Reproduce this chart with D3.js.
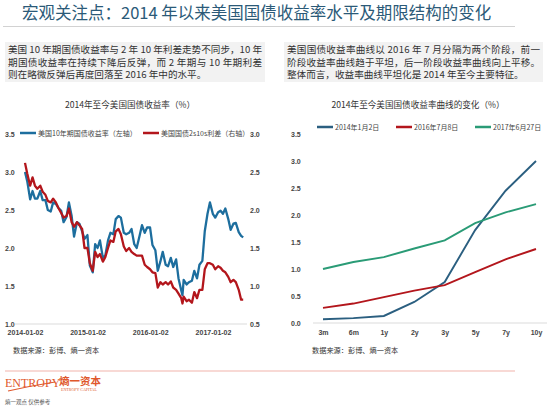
<!DOCTYPE html>
<html><head><meta charset="utf-8">
<script src="https://cdn.jsdelivr.net/npm/d3@7"></script>
<style>
body{margin:0;background:#fff;}
svg{display:block;}
text{font-family:"Noto Sans CJK SC","Noto Sans",sans-serif;}
</style></head>
<body><svg id="c" width="554" height="410"></svg>
<script>
// ---------- DATA ----------
const dates = ["2014-01-02","2014-01-15","2014-02-01","2014-02-15","2014-03-01","2014-03-15","2014-04-01","2014-04-15","2014-05-01","2014-05-15","2014-06-01","2014-06-15","2014-07-01","2014-07-15","2014-08-01","2014-08-15","2014-09-01","2014-09-15","2014-10-01","2014-10-15","2014-11-01","2014-11-15","2014-12-01","2014-12-15",
"2015-01-01","2015-01-15","2015-02-01","2015-02-15","2015-03-01","2015-03-15","2015-04-01","2015-04-15","2015-05-01","2015-05-15","2015-06-01","2015-06-15","2015-07-01","2015-07-15","2015-08-01","2015-08-15","2015-09-01","2015-09-15","2015-10-01","2015-10-15","2015-11-01","2015-11-15","2015-12-01","2015-12-15",
"2016-01-01","2016-01-15","2016-02-01","2016-02-15","2016-03-01","2016-03-15","2016-04-01","2016-04-15","2016-05-01","2016-05-15","2016-06-01","2016-06-15","2016-07-01","2016-07-08","2016-07-15","2016-08-01","2016-08-15","2016-09-01","2016-09-15","2016-10-01","2016-10-15","2016-11-01","2016-11-15","2016-12-01","2016-12-15",
"2017-01-01","2017-01-15","2017-02-01","2017-02-15","2017-03-01","2017-03-15","2017-04-01","2017-04-15","2017-05-01","2017-05-15","2017-06-01","2017-06-15","2017-06-27"];
const yield10y = [3.00,2.88,2.64,2.75,2.65,2.65,2.75,2.63,2.63,2.50,2.48,2.60,2.58,2.53,2.49,2.34,2.41,2.60,2.42,2.15,2.34,2.32,2.22,2.12,
2.17,1.77,1.68,2.05,2.00,2.10,1.87,1.90,2.10,2.20,2.18,2.38,2.42,2.40,2.20,2.18,2.20,2.25,2.05,2.00,2.16,2.30,2.20,2.27,
2.27,2.04,1.97,1.70,1.82,1.95,1.78,1.76,1.87,1.75,1.85,1.60,1.44,1.38,1.58,1.52,1.55,1.57,1.70,1.60,1.78,1.83,2.22,2.45,2.60,
2.45,2.40,2.47,2.49,2.45,2.52,2.38,2.24,2.32,2.33,2.21,2.16,2.14];
const spread2s10s = [2.62,2.48,2.32,2.43,2.32,2.28,2.32,2.24,2.20,2.12,2.10,2.15,2.10,2.03,1.96,1.90,1.92,2.02,1.84,1.78,1.84,1.80,1.75,1.50,
1.50,1.30,1.20,1.45,1.38,1.42,1.32,1.38,1.50,1.60,1.58,1.72,1.75,1.68,1.52,1.46,1.50,1.45,1.42,1.40,1.40,1.40,1.28,1.25,
1.22,1.18,1.17,0.98,1.05,1.02,1.05,1.02,1.06,0.98,0.95,0.90,0.84,0.77,0.86,0.80,0.82,0.78,0.92,0.84,0.95,0.95,1.22,1.30,1.30,
1.28,1.22,1.26,1.24,1.20,1.18,1.12,1.05,1.08,1.05,0.95,0.82,0.82];
const leftXTicks = ["2014-01-02","2015-01-02","2016-01-02","2017-01-02"];
const leftYTicks = [1.0,1.5,2.0,2.5,3.0,3.5];
const rightAxisTicks = [0.5,1.0,1.5,2.0,2.5,3.0];

const tenors = ["3m","6m","1y","2y","3y","5y","7y","10y"];
const curve20140102 = [0.07,0.09,0.13,0.39,0.76,1.72,2.45,3.00];
const curve20160708 = [0.28,0.36,0.48,0.60,0.70,0.94,1.18,1.37];
const curve20170627 = [1.00,1.13,1.22,1.38,1.53,1.85,2.05,2.20];
const curveYTicks = [0.0,0.5,1.0,1.5,2.0,2.5,3.0,3.5];
const curveNames = ["2014年1月2日","2016年7月8日","2017年6月27日"];

// ---------- DRAW ----------
const svg = d3.select("#c");
const parse = d3.timeParse("%Y-%m-%d");

// Title
svg.append("text").attr("x",22).attr("y",19).attr("font-size",16.5).attr("fill","#2b5a78").text("宏观关注点：2014 年以来美国国债收益率水平及期限结构的变化");
svg.append("line").attr("x1",3).attr("x2",515).attr("y1",26.5).attr("y2",26.5).attr("stroke","#d2d2d2").attr("stroke-width",1);

// Text boxes
function textBox(x0, w, lines){
  svg.append("rect").attr("x",x0).attr("y",42).attr("width",w).attr("height",40).attr("fill","#f2f2f2");
  lines.forEach((t,i)=>{
    const tx = svg.append("text").attr("x",x0+3).attr("y",53+i*12.7).attr("font-size",9.6).attr("fill","#333").text(t);
    if(i<2) tx.attr("textLength",w-6).attr("lengthAdjust","spacing");
  });
}
textBox(5,260,["美国 10 年期国债收益率与 2 年 10 年利差走势不同步，10 年","期国债收益率在持续下降后反弹，而 2 年期与 10 年期利差","则在略微反弹后再度回落至 2016 年中的水平。"]);
textBox(284,259,["美国国债收益率曲线以 2016 年 7 月分隔为两个阶段，前一","阶段收益率曲线趋于平坦，后一阶段收益率曲线向上平移。","整体而言，收益率曲线平坦化是 2014 年至今主要特征。"]);

// ---------- LEFT CHART ----------
const xL = d3.scaleTime().domain([parse("2014-01-02"),parse("2017-01-02")]).range([25,213]);
const yL = d3.scaleLinear().domain([1.0,3.5]).range([324,134]);
const yR = d3.scaleLinear().domain([0.5,3.0]).range([324,134]);

svg.append("text").attr("x",130).attr("y",108).attr("text-anchor","middle").attr("font-size",8.6).attr("fill","#333").text("2014年至今美国国债收益率（%）");

svg.append("line").attr("x1",15).attr("x2",247).attr("y1",324).attr("y2",324).attr("stroke","#dcdcdc").attr("stroke-width",1.2);

const axL = svg.append("g").attr("transform","translate(16,0)")
  .call(d3.axisLeft(yL).tickValues(leftYTicks).tickFormat(d3.format(".1f")).tickSize(0).tickPadding(0));
axL.select(".domain").remove();
axL.selectAll("text").attr("text-anchor","start").attr("x",-11).attr("font-size",7).attr("font-weight","bold").attr("fill","#444").style("font-family","Liberation Sans, Arial, sans-serif");

const axR = svg.append("g").attr("transform","translate(250,0)")
  .call(d3.axisRight(yR).tickValues(rightAxisTicks).tickFormat(d3.format(".1f")).tickSize(0).tickPadding(0));
axR.select(".domain").remove();
axR.selectAll("text").attr("font-size",7).attr("font-weight","bold").attr("fill","#444").style("font-family","Liberation Sans, Arial, sans-serif");

const axX = svg.append("g").attr("transform","translate(0,330)")
  .call(d3.axisBottom(xL).tickValues(leftXTicks.map(parse)).tickFormat(d3.timeFormat("%Y-%m-%d")).tickSize(0).tickPadding(0));
axX.select(".domain").remove();
axX.selectAll("text").attr("font-size",7).attr("font-weight","bold").attr("fill","#444").style("font-family","Liberation Sans, Arial, sans-serif");

const seriesL = dates.map((d,i)=>({d:parse(d),y:yield10y[i],s:spread2s10s[i]}));
svg.append("path").datum(seriesL).attr("fill","none").attr("stroke","#1d6e9e").attr("stroke-width",2.3).attr("stroke-linejoin","round")
  .attr("d",d3.line().x(d=>xL(d.d)).y(d=>yL(d.y)));
svg.append("path").datum(seriesL).attr("fill","none").attr("stroke","#b3161c").attr("stroke-width",2.3).attr("stroke-linejoin","round")
  .attr("d",d3.line().x(d=>xL(d.d)).y(d=>yR(d.s)));

const legL = [{c:"#1d6e9e",t:"美国10年期国债收益率（左轴）",x:20},{c:"#b3161c",t:"美国国债2s10s利差（右轴）",x:143}];
legL.forEach(l=>{
  svg.append("line").attr("x1",l.x).attr("x2",l.x+16).attr("y1",133).attr("y2",133).attr("stroke",l.c).attr("stroke-width",2.5);
  svg.append("text").attr("x",l.x+18).attr("y",135.5).attr("font-size",7).attr("fill","#444").text(l.t);
});

svg.append("text").attr("x",13).attr("y",353).attr("font-size",7.2).attr("fill","#333").text("数据来源：彭博、熵一资本");

// ---------- RIGHT CHART ----------
const xC = d3.scalePoint().domain(tenors).range([323,536]);
const yC = d3.scaleLinear().domain([0,3.5]).range([323,134]);

svg.append("text").attr("x",418).attr("y",108).attr("text-anchor","middle").attr("font-size",8.6).attr("fill","#333").text("2014年至今美国国债收益率曲线的变化（%）");

svg.append("line").attr("x1",313).attr("x2",547).attr("y1",323).attr("y2",323).attr("stroke","#dcdcdc").attr("stroke-width",1.2);

const axC = svg.append("g").attr("transform","translate(291,0)")
  .call(d3.axisLeft(yC).tickValues(curveYTicks).tickFormat(d3.format(".1f")).tickSize(0).tickPadding(0));
axC.select(".domain").remove();
axC.selectAll("text").attr("text-anchor","start").attr("x",0).attr("font-size",7).attr("font-weight","bold").attr("fill","#444").style("font-family","Liberation Sans, Arial, sans-serif");

const axCX = svg.append("g").attr("transform","translate(0,330)")
  .call(d3.axisBottom(xC).tickSize(0).tickPadding(0));
axCX.select(".domain").remove();
axCX.selectAll("text").attr("font-size",7).attr("font-weight","bold").attr("fill","#444").style("font-family","Liberation Sans, Arial, sans-serif");

const curves = [curve20140102,curve20160708,curve20170627];
const curveColors = ["#2b5f80","#b3161c","#2a9b76"];
const lineC = d3.line().x((d,i)=>xC(tenors[i])).y(d=>yC(d));
curves.forEach((c,k)=>{
  svg.append("path").datum(c).attr("fill","none").attr("stroke",curveColors[k]).attr("stroke-width",1.9).attr("d",lineC);
});

const legX = [317,396,475];
curveNames.forEach((n,k)=>{
  svg.append("line").attr("x1",legX[k]).attr("x2",legX[k]+16).attr("y1",127).attr("y2",127).attr("stroke",curveColors[k]).attr("stroke-width",2.5);
  svg.append("text").attr("x",legX[k]+18).attr("y",129.5).attr("font-size",7).attr("fill","#444").text(n);
});

svg.append("text").attr("x",312).attr("y",353).attr("font-size",7.2).attr("fill","#333").text("数据来源：彭博、熵一资本");

// ---------- FOOTER ----------
svg.append("line").attr("x1",5).attr("x2",515).attr("y1",371).attr("y2",371).attr("stroke","#f2b4ac").attr("stroke-width",1.2);
svg.append("text").attr("x",5).attr("y",387).attr("font-size",12).attr("fill","#e0582c").style("font-family","Liberation Serif, serif").text("ENTROPY");
svg.append("path").attr("d","M8,391 Q30,386 55,382").attr("fill","none").attr("stroke","#e0582c").attr("stroke-width",1.2);
svg.append("text").attr("x",59).attr("y",385).attr("font-size",10.5).attr("font-weight","bold").attr("fill","#e0582c").text("熵一资本");
svg.append("text").attr("x",61).attr("y",391).attr("font-size",4).attr("fill","#e0582c").style("font-family","Liberation Serif, serif").text("ENTROPY CAPITAL");
svg.append("text").attr("x",5).attr("y",404).attr("font-size",5.5).attr("fill","#555").text("熵一观点 仅供参考");
</script></body></html>
